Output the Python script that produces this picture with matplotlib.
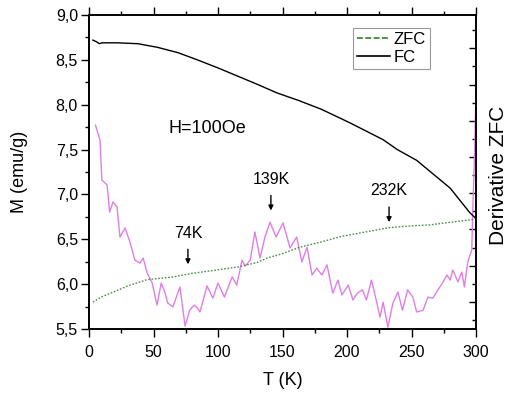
import matplotlib
matplotlib.use("Agg")
import matplotlib.pyplot as plt
from matplotlib.lines import Line2D
from matplotlib.ticker import MultipleLocator, FuncFormatter

plt.rcParams['font.family'] = ['Liberation Sans', 'DejaVu Sans']

# ---- data ----
fc_T = [3, 6, 8, 10, 22, 38, 53, 69, 84, 100, 115, 130, 146, 162, 180, 202,
        228, 239, 254, 280, 295, 300]
fc_M = [8.72, 8.70, 8.68, 8.69, 8.69, 8.68, 8.64, 8.58, 8.50, 8.41, 8.32, 8.23,
        8.13, 8.05, 7.95, 7.80, 7.61, 7.50, 7.38, 7.07, 6.80, 6.73]

zfc_T = [3, 10, 18.6, 30, 45, 65, 80, 100, 115, 130, 138, 150, 163, 180, 195,
         210, 233, 250, 264, 280, 298]
zfc_M = [5.80, 5.86, 5.91, 5.98, 6.05, 6.08, 6.12, 6.16, 6.19, 6.24, 6.29, 6.34,
         6.41, 6.47, 6.53, 6.57, 6.63, 6.65, 6.66, 6.69, 6.72]

der_T = [5, 8.5, 10, 14, 16, 18.6, 21.7, 24, 28, 32, 35.6, 39.5, 42, 45, 49,
         52.7, 56, 59, 61, 65, 70.5, 74.5, 78, 81.5, 84, 86, 91.5, 96, 100, 105,
         111, 114.5, 118.6, 121, 125, 128.6, 132.6, 136.4, 140.3, 145, 150.4,
         155.8, 161, 165, 169, 172.9, 176.5, 180.6, 184.5, 189, 193, 196, 201,
         204.6, 208, 212, 215, 219, 223, 225.6, 228, 231.7, 235.6, 239.5, 243,
         247, 251, 254, 259, 262.7, 266.5, 270.5, 274, 277.5, 280, 282, 286, 289,
         291, 293.6, 296.7, 297.5, 299, 300]
der_V = [5.88, 5.47, 4.36, 4.23, 3.48, 3.76, 3.62, 2.79, 3.04, 2.62, 2.15, 2.07,
         2.21, 1.80, 1.52, 0.91, 1.52, 1.24, 0.97, 0.86, 1.41, 0.33, 0.77, 0.91,
         0.83, 0.72, 1.44, 1.10, 1.52, 1.13, 1.69, 1.46, 2.15, 1.99, 2.15, 2.93,
         2.21, 2.79, 3.20, 2.79, 3.18, 2.49, 2.79, 2.10, 2.51, 1.74, 1.93, 1.74,
         2.02, 1.24, 1.60, 1.19, 1.46, 1.05, 1.24, 1.33, 1.05, 1.60, 0.99, 0.58,
         0.99, 0.30, 0.97, 1.27, 0.77, 1.33, 1.13, 0.72, 0.77, 1.13, 1.10, 1.33,
         1.52, 1.74, 1.60, 1.88, 1.55, 1.82, 1.41, 2.10, 2.43, 3.54, 5.19, 6.85]

annot_labels = ["74K", "139K", "232K"]
annot_T = [76.7, 141, 232.6]
annot_tip = [6.19, 6.79, 6.66]

# ---- figure ----
fig = plt.figure(figsize=(5.11, 3.94), dpi=100)
ax = fig.add_axes([89/511, 65/394, 387/511, 314/394])
ax2 = ax.twinx()

ax2.plot(der_T, der_V, color='#e07ee6', lw=1.0)
ax.plot(zfc_T, zfc_M, color='#4a8f4a', lw=1.0, ls=(0, (1.2, 1.2)))
ax.plot(fc_T, fc_M, color='black', lw=1.0)

ax.set_zorder(ax2.get_zorder() + 1)
ax.patch.set_visible(False)

ax.set_xlim(0, 300)
ax.set_ylim(5.5, 9.0)
ax2.set_ylim(0.25, 8.92)

fmt = FuncFormatter(lambda v, p: f"{v:.1f}".replace('.', ','))
ax.yaxis.set_major_formatter(fmt)
ax.xaxis.set_major_locator(MultipleLocator(50))
ax.xaxis.set_minor_locator(MultipleLocator(25))
ax.yaxis.set_major_locator(MultipleLocator(0.5))
ax.yaxis.set_minor_locator(MultipleLocator(0.25))
ax2.yaxis.set_major_locator(MultipleLocator(1))
ax2.yaxis.set_minor_locator(MultipleLocator(0.5))
ax2.set_yticklabels([])

ax.tick_params(axis='both', which='major', direction='out', length=5.5, width=1,
               labelsize=11.5)
ax.tick_params(axis='x', which='major', pad=6)
ax.tick_params(axis='y', which='major', pad=2.5)
ax.tick_params(axis='both', which='minor', direction='out', length=3, width=1)
ax.tick_params(axis='x', which='both', top=True)
ax2.tick_params(axis='y', which='major', direction='in', length=5, width=1,
                labelright=False)
ax2.tick_params(axis='y', which='minor', direction='in', length=3, width=1)

for a in (ax, ax2):
    for s in a.spines.values():
        s.set_linewidth(1.2)

ax.set_xlabel('T (K)', fontsize=13)
ax.set_ylabel('M (emu/g)', fontsize=13)
ax2.set_ylabel('Derivative ZFC', fontsize=15)
ax.xaxis.set_label_coords(0.501, -0.138)
ax.yaxis.set_label_coords(-0.158, 0.5)
ax2.yaxis.set_label_coords(1.034, 0.49)

ax.text(92, 7.74, 'H=100Oe', fontsize=13, ha='center', va='center')
for lab, t, tip in zip(annot_labels, annot_T, annot_tip):
    ax.annotate('', xy=(t, tip), xytext=(t, tip + 0.23),
                arrowprops=dict(arrowstyle='-|>', color='black', lw=1,
                                mutation_scale=7))
    ax.text(t, tip + 0.38, lab, fontsize=11.5, ha='center', va='center')

handles = [Line2D([], [], color='#2f7d2f', lw=1.2, ls=(0, (3.5, 1.5))),
           Line2D([], [], color='black', lw=1.2)]
leg = ax.legend(handles, ['ZFC', 'FC'], loc='upper left',
                bbox_to_anchor=(0.682, 0.959), borderaxespad=0,
                fontsize=12, handlelength=2.0, handletextpad=0.2,
                fancybox=False, framealpha=1, edgecolor='#999999',
                borderpad=0.25, labelspacing=0.15)
leg.get_frame().set_linewidth(0.8)

fig.savefig('out.png', dpi=100)
